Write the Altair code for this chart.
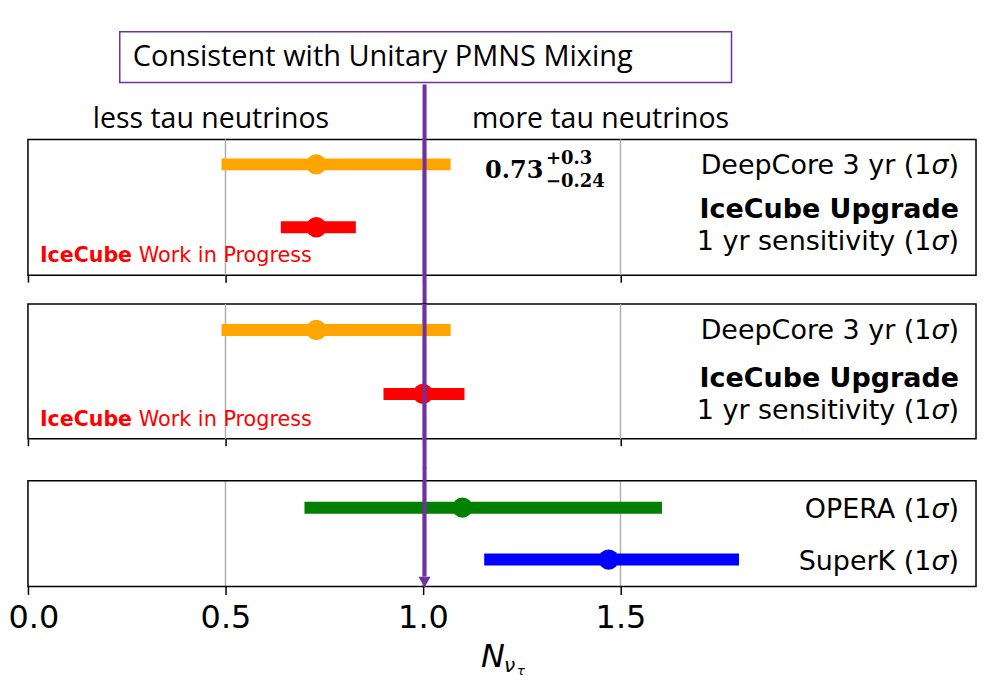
import altair as alt
import pandas as pd

# ---------------- data ----------------
row_key = ["dc_a", "up_a", "dc_b", "up_b", "opera", "superk"]
row_panel = [1, 1, 2, 2, 3, 3]
central = [0.73, 0.73, 0.73, 1.00, 1.10, 1.47]
err_low = [0.49, 0.64, 0.49, 0.90, 0.70, 1.155]
err_high = [1.07, 0.83, 1.07, 1.105, 1.605, 1.80]
row_color = ["#FFA500", "#FF0000", "#FFA500", "#FF0000", "#008000", "#0000FF"]

label_row = ["dc_a", "up_a", "up_a", "dc_b", "up_b", "up_b", "opera", "superk"]
label_panel = [1, 1, 1, 2, 2, 2, 3, 3]
label_text = ["DeepCore 3 yr (1σ)", "IceCube Upgrade", "1 yr sensitivity (1σ)",
              "DeepCore 3 yr (1σ)", "IceCube Upgrade", "1 yr sensitivity (1σ)",
              "OPERA (1σ)", "SuperK (1σ)"]
label_kind = ["plain", "bold", "sub", "plain", "bold", "sub", "plain", "plain"]

grid_values = [0.5, 1.0, 1.5]
tick_values = [0.0, 0.5, 1.0, 1.5]
unitary_value = 1.004

# ---------------- style ----------------
W = 950
X_MAX = 2.4
PURPLE = "#7030A0"
GRID = "#b0b0b0"
P3_TOP = 13  # panel 3 frame starts this far below its group top
LAB_FS = 27
LAB_RIGHT = 933
PAREN_W = 0.390 * LAB_FS
SIGMA_W = 0.634 * LAB_FS

# split "(1σ)" so that σ can be drawn in italic like mathtext
prefix, sigma, close = [], [], []
for t in label_text:
    if t.endswith("σ)"):
        prefix.append(t[:-2]); sigma.append("σ"); close.append(")")
    else:
        prefix.append(t); sigma.append(""); close.append("")

rows_df = pd.DataFrame({"row": row_key, "panel": row_panel, "central": central,
                        "lo": err_low, "hi": err_high, "color": row_color})
labels_df = pd.DataFrame({"row": label_row, "panel": label_panel, "text": label_text,
                          "prefix": prefix, "sigma": sigma, "close": close,
                          "kind": label_kind})
grid_df = pd.DataFrame({"v": grid_values})
one = pd.DataFrame({"k": [0]})

xscale = alt.Scale(domain=[0, X_MAX], nice=False, zero=False)


def make_axis(show_labels):
    if show_labels:
        return alt.Axis(values=tick_values, format=".1f", title=None, grid=False,
                        domain=False, ticks=True, tickSize=8, tickWidth=1.5,
                        tickColor="black", labelFont="DejaVu Sans", labelFontSize=32,
                        labelColor="black", labelPadding=8, labelFlush=False,
                        labelOffset={"condition": {"test": "datum.value == 0", "value": 5.5},
                                     "value": 0})
    return alt.Axis(values=tick_values, labels=False, title=None, grid=False,
                    domain=False, ticks=True, tickSize=7, tickWidth=1.5,
                    tickColor="black")


def txt(text, x, y, size, font="DejaVu Sans", weight="normal", style="normal",
        color="black", align="left", baseline="alphabetic"):
    return alt.Chart(pd.DataFrame({"t": [text]})).mark_text(
        align=align, baseline=baseline, font=font, fontSize=size,
        fontWeight=weight, fontStyle=style, color=color
    ).encode(x=alt.value(x), y=alt.value(y), text="t:N")


def purple_line(ax, y0, y1):
    return alt.Chart(one).mark_rule(color=PURPLE, strokeWidth=4).encode(
        x=alt.X(datum=unitary_value, scale=xscale, axis=ax),
        y=alt.value(y0), y2=alt.value(y1))


def panel(pid, height, y_range, show_labels, extra, line_top, line_bottom,
          dys, grid_top=None, frame=None):
    ax = make_axis(show_labels)
    d = rows_df[rows_df.panel == pid]
    rows = list(d["row"])
    ys = alt.Scale(type="point", domain=rows, range=y_range, padding=0)
    Y = alt.Y("row:N", scale=ys, axis=None)
    genc = {"x": alt.X("v:Q", scale=xscale, axis=ax)}
    if grid_top is not None:
        genc["y"] = alt.value(grid_top)
        genc["y2"] = alt.value(height)
    grid = alt.Chart(grid_df).mark_rule(color=GRID, strokeWidth=1.5).encode(**genc)
    bars = alt.Chart(d).mark_rule(strokeWidth=12, strokeCap="butt").encode(
        x=alt.X("lo:Q", scale=xscale, axis=ax), x2="hi:Q", y=Y,
        color=alt.Color("color:N", scale=None))
    pts = alt.Chart(d).mark_circle(size=415, opacity=1).encode(
        x=alt.X("central:Q", scale=xscale, axis=ax), y=Y,
        color=alt.Color("color:N", scale=None))
    layers = [grid]
    if frame is not None:
        layers.append(frame)
    layers += [bars, pts]
    lab = labels_df[labels_df.panel == pid]
    for kind, weight in [("plain", "normal"), ("bold", "bold"), ("sub", "normal")]:
        lk = lab[lab.kind == kind]
        if not len(lk):
            continue
        dy = dys[kind]
        base = dict(align="right", baseline="alphabetic", dy=dy, font="DejaVu Sans",
                    fontSize=LAB_FS, fontWeight=weight, color="black")
        split = lk[lk.sigma != ""]
        whole = lk[lk.sigma == ""]
        if len(whole):
            layers.append(alt.Chart(whole).mark_text(**base).encode(
                x=alt.value(LAB_RIGHT), y=Y, text="prefix:N"))
        if len(split):
            layers.append(alt.Chart(split).mark_text(**base).encode(
                x=alt.value(LAB_RIGHT - PAREN_W - SIGMA_W), y=Y, text="prefix:N"))
            layers.append(alt.Chart(split).mark_text(fontStyle="italic", **base).encode(
                x=alt.value(LAB_RIGHT - PAREN_W), y=Y, text="sigma:N"))
            layers.append(alt.Chart(split).mark_text(**base).encode(
                x=alt.value(LAB_RIGHT), y=Y, text="close:N"))
    layers += extra
    layers.append(purple_line(ax, line_top, line_bottom))
    return alt.layer(*layers).properties(width=W, height=height)


def wip(yb):
    return [
        txt("IceCube", 12, yb, 20.6, weight="bold", color="#FF0000"),
        txt("Work in Progress", 111, yb, 20.8, color="#FF0000"),
    ]


top_box = alt.Chart(one).mark_rect(fill="white", stroke=PURPLE, strokeWidth=1.5).encode(
    x=alt.value(92), x2=alt.value(705), y=alt.value(-108), y2=alt.value(-57))

extra1 = [
    top_box,
    txt("Consistent with Unitary PMNS Mixing", 105, -83, 29, font="Open Sans", baseline="middle"),
    txt("less tau neutrinos", 65, -20, 28.5, font="Open Sans", baseline="middle"),
    txt("more tau neutrinos", 445, -20, 28.5, font="Open Sans", baseline="middle"),
    txt("0.73", 458, 39, 24, font="DejaVu Serif", weight="bold"),
    txt("+0.3", 519, 25, 18, font="DejaVu Serif", weight="bold"),
    txt("\u22120.24", 519, 48, 18, font="DejaVu Serif", weight="bold"),
] + wip(123)

extra2 = wip(122)

H3 = 106 + P3_TOP
ax3 = make_axis(True)
frame3 = alt.Chart(one).mark_rect(fill=None, stroke="black", strokeWidth=1.5).encode(
    x=alt.value(0), x2=alt.value(W), y=alt.value(P3_TOP), y2=alt.value(H3))
arrow_head = alt.Chart(one).mark_point(
    shape="M-1,-0.8L1,-0.8L0,1Z", filled=True, size=144, color=PURPLE,
    opacity=1, strokeWidth=0
).encode(x=alt.X(datum=unitary_value, scale=xscale, axis=ax3), y=alt.value(P3_TOP + 101))

extra3 = [
    arrow_head,
    txt("N", 454, P3_TOP + 187, 32, style="italic"),
    txt("ν", 477, P3_TOP + 192, 20, style="italic"),
    txt("τ", 490, P3_TOP + 195, 13, style="italic"),
]

p1 = panel(1, 136, [25, 88], False, extra1, -55, 165,
           {"plain": 10, "bold": -9, "sub": 23})
p2 = panel(2, 135, [26, 90], False, extra2, 0, 165,
           {"plain": 9, "bold": -7, "sub": 25})
p3 = panel(3, H3, [P3_TOP + 27, P3_TOP + 79], True, extra3, 0, P3_TOP + 96,
           {"plain": 10, "bold": -9, "sub": 23},
           grid_top=P3_TOP, frame=frame3).properties(view=alt.ViewBackground(stroke=None))

chart = alt.vconcat(p1, p2, p3, spacing=29, bounds="flush").properties(
    padding={"left": 0, "top": 21, "right": 5, "bottom": 5}
).configure(background="white").configure_view(stroke="black", strokeWidth=1.5)

chart.save("out.html", embed_options={"renderer": "svg", "actions": False})
